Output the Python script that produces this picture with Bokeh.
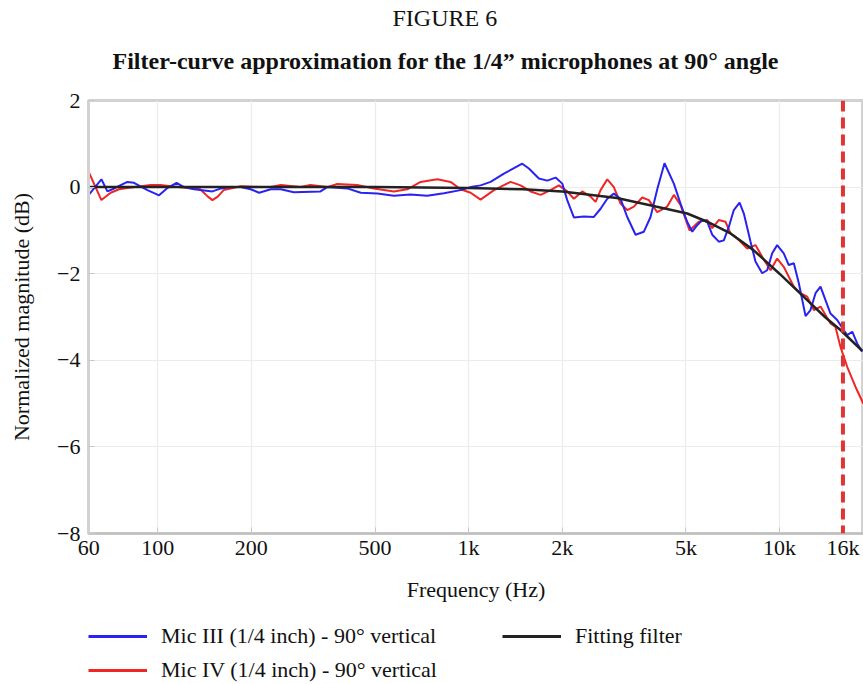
from bokeh.plotting import figure
from bokeh.layouts import column
from bokeh.models import (Range1d, FixedTicker, CustomJSTickFormatter, Span, Legend,
                          LegendItem, Title)
from bokeh.embed import file_html
from bokeh.resources import INLINE

FONT = "Liberation Serif"

# ---- data ----
x_ticks = [60, 100, 200, 500, 1000, 2000, 5000, 10000, 16000]
y_ticks = [-8, -6, -4, -2, 0, 2]
cutoff_hz = 16000

blue_f = [60, 65.9, 68.9, 71.5, 79.9, 83.9, 92.7, 101, 107, 115, 121.5, 131, 150, 160, 172,
          185, 199, 212, 231, 249, 274, 334, 351, 407, 450, 509, 575, 650, 736, 833, 942,
          1015, 1093, 1177, 1299, 1488, 1563, 1683, 1791, 1905, 2001, 2076, 2181, 2349, 2529,
          2658, 2793, 2932, 3082, 3238, 3444, 3663, 3848, 4044, 4267, 4573, 4804, 5047, 5241,
          5437, 5641, 5854, 6076, 6380, 6621, 6870, 7130, 7440, 7680, 8070, 8370, 8797, 9127,
          9472, 9830, 10320, 10710, 11120, 11540, 12130, 12580, 13060, 13550, 14060, 14590,
          15330, 15910, 16510, 17140, 17780, 18450]
blue_db = [-0.18, 0.18, -0.10, -0.05, 0.12, 0.10, -0.07, -0.19, -0.03, 0.10, 0.0, -0.05, -0.10,
           -0.03, 0.0, 0.0, -0.05, -0.13, -0.05, -0.05, -0.12, -0.10, 0.0, -0.03, -0.13, -0.15,
           -0.20, -0.17, -0.20, -0.14, -0.07, 0.0, 0.04, 0.12, 0.31, 0.54, 0.43, 0.20, 0.15,
           0.22, 0.08, -0.30, -0.70, -0.68, -0.69, -0.50, -0.27, -0.15, -0.27, -0.69, -1.10,
           -1.03, -0.69, -0.05, 0.55, 0.08, -0.38, -0.80, -1.03, -0.88, -0.76, -0.80, -1.10,
           -1.26, -1.23, -0.92, -0.53, -0.36, -0.61, -1.26, -1.72, -1.99, -1.92, -1.53, -1.34,
           -1.53, -1.80, -1.76, -2.22, -2.98, -2.84, -2.45, -2.30, -2.61, -2.92, -3.07, -3.25,
           -3.42, -3.34, -3.61, -3.80]

red_f = [60, 65.9, 70.6, 75.1, 79.9, 94.9, 102, 116, 137, 145, 150, 156, 163, 185, 214, 231,
         249, 288, 310, 351, 378, 438, 496, 575, 635, 701, 793, 875, 942, 1015, 1093, 1207,
         1365, 1469, 1583, 1705, 1835, 1951, 2076, 2181, 2321, 2468, 2561, 2658, 2793, 2932,
         3082, 3238, 3401, 3618, 3800, 4044, 4354, 4573, 4804, 5138, 5499, 5854, 6076, 6380,
         6704, 6958, 7310, 7872, 8370, 8797, 9360, 9830, 10320, 11120, 11680, 12280, 12900,
         13550, 14590, 15140, 15710, 16510, 17550, 18600]
red_db = [0.35, -0.30, -0.13, -0.05, -0.02, 0.05, 0.05, 0.0, -0.05, -0.22, -0.30, -0.22, -0.07,
          0.02, 0.0, 0.0, 0.05, 0.0, 0.05, 0.0, 0.07, 0.05, -0.03, -0.10, -0.05, 0.12, 0.18,
          0.12, -0.05, -0.13, -0.29, -0.07, 0.12, 0.04, -0.10, -0.18, -0.07, 0.04, -0.10, -0.27,
          -0.10, -0.22, -0.34, -0.07, 0.18, 0.0, -0.38, -0.53, -0.45, -0.24, -0.30, -0.58,
          -0.45, -0.18, -0.41, -1.00, -0.80, -0.76, -0.95, -0.76, -0.80, -1.07, -1.18, -1.42,
          -1.34, -1.61, -1.92, -1.65, -1.84, -2.30, -2.45, -2.53, -2.84, -2.76, -3.15, -3.23,
          -3.69, -4.15, -4.61, -5.00]

fit_f = [60, 500, 1000, 1500, 2000, 3000, 4000, 5050, 5854, 6958, 8230, 10000, 12280, 14000,
         15710, 18450]
fit_db = [0.0, 0.0, -0.02, -0.05, -0.10, -0.25, -0.45, -0.61, -0.80, -1.07, -1.45, -2.0, -2.61,
          -3.0, -3.3, -3.78]

labels = ["Mic III (1/4 inch) - 90\u00b0 vertical",
          "Mic IV (1/4 inch) - 90\u00b0 vertical",
          "Fitting filter"]
colors = {"blue": "#2a22f0", "red": "#f02525", "black": "#222222"}

# ---- main figure ----
p = figure(x_axis_type="log", title=None,
           x_range=Range1d(59.9, 18630), y_range=Range1d(-8, 2),
           frame_width=775, frame_height=433,
           min_border_left=88, min_border_right=0, min_border_top=100, min_border_bottom=67,
           output_backend="svg", toolbar_location=None,
           background_fill_color="white", border_fill_color="white")

p.outline_line_color = "#d2d2d2"
p.outline_line_width = 3

p.line(red_f, red_db, line_color=colors["red"], line_width=2)
p.line(blue_f, blue_db, line_color=colors["blue"], line_width=2)
p.line(fit_f, fit_db, line_color=colors["black"], line_width=2.5)

p.add_layout(Span(location=cutoff_hz, dimension="height", line_color="#e03535",
                  line_width=4, line_dash="11 6"))

# axes
p.xaxis.ticker = FixedTicker(ticks=x_ticks)
p.xaxis.formatter = CustomJSTickFormatter(
    code="return tick >= 1000 ? (tick/1000) + 'k' : '' + tick;")
p.yaxis.ticker = FixedTicker(ticks=y_ticks)
p.yaxis.formatter = CustomJSTickFormatter(
    code="return tick < 0 ? '\\u2212' + (-tick) : '' + tick;")

for ax in (p.xaxis[0], p.yaxis[0]):
    ax.major_label_text_font = FONT
    ax.major_label_text_font_size = "22px"
    ax.major_label_text_color = "#111111"
    ax.axis_label_text_font = FONT
    ax.axis_label_text_font_size = "22px"
    ax.axis_label_text_font_style = "normal"
    ax.axis_label_text_color = "#111111"
    ax.major_tick_line_color = "#c8c8c8"
    ax.major_tick_in = 6
    ax.major_tick_out = 0
    ax.minor_tick_line_color = None

p.xaxis.axis_line_color = "#bdbdbd"
p.xaxis.axis_line_width = 2
p.yaxis.axis_line_color = "#d2d2d2"
p.yaxis.axis_line_width = 3

p.xaxis.axis_label = "Frequency (Hz)"
p.xaxis.major_label_standoff = 1
p.xaxis.axis_label_standoff = 14
p.yaxis.axis_label = "Normalized magnitude (dB)"
p.yaxis.major_label_standoff = 8
p.yaxis.axis_label_standoff = 20

p.grid.grid_line_color = "#ebebeb"
p.grid.grid_line_width = 1.2
p.xgrid.ticker = FixedTicker(ticks=x_ticks)
p.ygrid.ticker = FixedTicker(ticks=y_ticks)


def spacer(standoff):
    # a blank title used only to reserve vertical room above the frame
    return Title(text=" ", text_font=FONT, text_font_size="2px", standoff=standoff)


# titles (blank spacers keep the gaps of the reference)
p.add_layout(spacer(23), "above")
p.add_layout(Title(text="Filter-curve approximation for the 1/4\u201d microphones at 90\u00b0 angle",
                   text_font=FONT, text_font_size="24px", text_font_style="bold",
                   align="left", offset=24, text_color="#111111", standoff=0), "above")
p.add_layout(spacer(11), "above")
p.add_layout(Title(text="FIGURE 6", text_font=FONT, text_font_size="24px",
                   text_font_style="normal", align="left", offset=304,
                   text_color="#111111", standoff=0), "above")

# ---- legend strip below (its lines lie outside its own view, only the legend shows) ----
lg = figure(width=863, height=84, output_backend="svg", toolbar_location=None,
            x_range=Range1d(-2, -1), y_range=Range1d(-20, -10),
            min_border=0, min_border_left=0, min_border_right=0, title=None,
            background_fill_color="white", border_fill_color="white", outline_line_color=None)
lg.axis.visible = False
lg.grid.visible = False
l_blue = lg.line(blue_f, blue_db, line_color=colors["blue"], line_width=3)
l_red = lg.line(red_f, red_db, line_color=colors["red"], line_width=3)
l_fit = lg.line(fit_f, fit_db, line_color=colors["black"], line_width=3)

legend = Legend(items=[LegendItem(label=labels[0], renderers=[l_blue]),
                       LegendItem(label=labels[1], renderers=[l_red]),
                       LegendItem(label=labels[2], renderers=[l_fit])],
                ncols=2, location=(0, 5),
                label_text_font=FONT, label_text_font_size="22px", label_text_color="#111111",
                glyph_width=59, glyph_height=22, label_standoff=14, label_width=333,
                label_height=22, spacing=8, padding=0, margin=0,
                border_line_color=None, background_fill_alpha=0)
lg.add_layout(legend, "center")

layout = column(p, lg, spacing=0)
open("out.html", "w").write(file_html(layout, INLINE))
